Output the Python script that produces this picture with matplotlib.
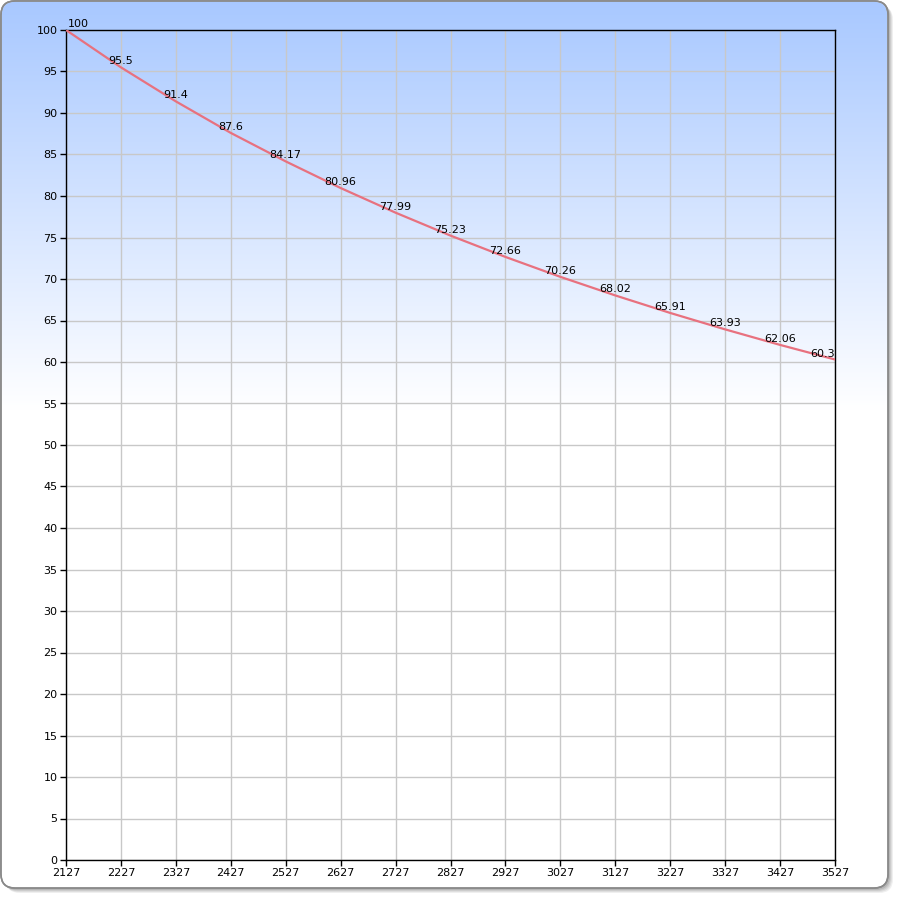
import matplotlib
matplotlib.use("Agg")
import matplotlib.pyplot as plt
import numpy as np
from matplotlib.patches import FancyBboxPatch

x_values = [2127, 2227, 2327, 2427, 2527, 2627, 2727, 2827, 2927, 3027, 3127, 3227, 3327, 3427, 3527]
y_values = [100, 95.5, 91.4, 87.6, 84.17, 80.96, 77.99, 75.23, 72.66, 70.26, 68.02, 65.91, 63.93, 62.06, 60.3]
y_ticks = list(range(0, 101, 5))

W, H = 900, 900
fig = plt.figure(figsize=(9, 9), dpi=100)
fig.patch.set_facecolor("white")

# background layer
bg = fig.add_axes([0, 0, 1, 1])
bg.set_xlim(0, W)
bg.set_ylim(H, 0)
bg.axis("off")

# shadow
for i, a in enumerate([0.10, 0.12, 0.15, 0.2]):
    off = 5 - i
    sh = FancyBboxPatch((1 + off, 1 + off), 887, 887, boxstyle="round,pad=0,rounding_size=14",
                        fc=(0.4, 0.4, 0.4, a), ec="none")
    bg.add_patch(sh)

box = FancyBboxPatch((1, 1), 887, 887, boxstyle="round,pad=0,rounding_size=14",
                     fc="white", ec="#8a8a8a", lw=1.2, zorder=1)
bg.add_patch(box)

# gradient
ys = np.linspace(0, H, 900)
t = np.clip(ys / 410.0, 0, 1)
top = np.array([168, 200, 255]) / 255.0
bot = np.array([255, 255, 255]) / 255.0
grad = (top[None, :] * (1 - t[:, None]) + bot[None, :] * t[:, None])
img = np.repeat(grad[:, None, :], 10, axis=1)
im = bg.imshow(img, extent=[1, 888, H, 0], aspect="auto", zorder=2, interpolation="bilinear")
clip = FancyBboxPatch((1.6, 1.6), 885.8, 885.8, boxstyle="round,pad=0,rounding_size=14",
                      fc="none", ec="none", transform=bg.transData)
bg.add_patch(clip)
im.set_clip_path(clip)
border = FancyBboxPatch((1, 1), 887, 887, boxstyle="round,pad=0,rounding_size=14",
                        fc="none", ec="#8a8a8a", lw=1.2, zorder=3)
bg.add_patch(border)

# main plot
L, R, T, B = 66, 835, 30, 860
ax = fig.add_axes([L / W, 1 - B / H, (R - L) / W, (B - T) / H])
ax.patch.set_alpha(0)
ax.set_xlim(2127, 3527)
ax.set_ylim(0, 100)
ax.set_xticks(x_values)
ax.set_yticks(y_ticks)
ax.tick_params(axis="both", direction="out", length=4, width=1, colors="black",
               labelsize=8, pad=2)
ax.grid(True, color="#c8c8c8", lw=1)
ax.set_axisbelow(True)
for s in ax.spines.values():
    s.set_color("black")
    s.set_linewidth(1)

ax.plot(x_values, y_values, color="#e8717f", lw=1.6, zorder=3, solid_capstyle="round")

for i, (xv, yv) in enumerate(zip(x_values, y_values)):
    label = f"{yv:g}"
    if i == 0:
        ha = "left"
        dx = 2
    elif i == len(x_values) - 1:
        ha = "right"
        dx = 0
    else:
        ha = "center"
        dx = 0
    ax.annotate(label, (xv, yv), xytext=(dx, 1), textcoords="offset pixels",
                ha=ha, va="bottom", fontsize=8, color="black", zorder=4,
                annotation_clip=False)

fig.savefig("out.png", dpi=100)
